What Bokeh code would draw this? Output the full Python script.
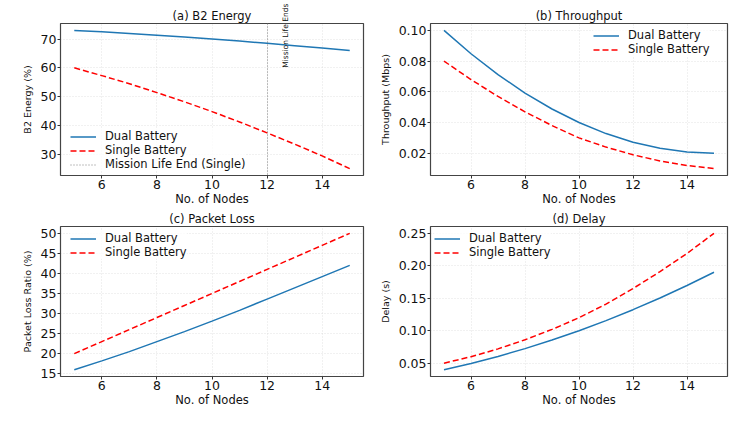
import numpy as np
from bokeh.plotting import figure
from bokeh.layouts import gridplot
from bokeh.models import (Range1d, FixedTicker, NumeralTickFormatter, Label,
                          Legend, LegendItem)
from bokeh.embed import file_html
from bokeh.resources import INLINE

# ---- data ---------------------------------------------------------------
nodes = [5, 6, 7, 8, 9, 10, 11, 12, 13, 14, 15]

energy_dual = [73.0, 72.5, 71.9, 71.3, 70.7, 70.0, 69.3, 68.5, 67.7, 66.9, 66.0]
energy_single = [60.0, 57.3, 54.5, 51.4, 48.2, 44.8, 41.2, 37.4, 33.5, 29.4, 25.0]

throughput_dual = [0.100, 0.0848, 0.0712, 0.0592, 0.0488, 0.0400, 0.0328,
                   0.0272, 0.0232, 0.0208, 0.0200]
throughput_single = [0.080, 0.068, 0.057, 0.047, 0.038, 0.030, 0.024,
                     0.019, 0.015, 0.012, 0.010]

loss_dual = [16.0, 18.2, 20.5, 23.0, 25.5, 28.1, 30.8, 33.6, 36.4, 39.2, 42.0]
loss_single = [20, 23, 26, 29, 32, 35, 38, 41, 44, 47, 50]

delay_dual = [0.040, 0.0496, 0.0604, 0.0724, 0.0856, 0.100, 0.1156,
              0.1324, 0.1504, 0.1696, 0.190]
delay_single = [0.050, 0.060, 0.072, 0.086, 0.102, 0.120, 0.141,
                0.165, 0.191, 0.219, 0.250]

mission_end_nodes = 12

x_ticks = [6, 8, 10, 12, 14]
energy_ticks = [30, 40, 50, 60, 70]
throughput_ticks = [0.02, 0.04, 0.06, 0.08, 0.10]
loss_ticks = [15, 20, 25, 30, 35, 40, 45, 50]
delay_ticks = [0.05, 0.10, 0.15, 0.20, 0.25]

# ---- styling --------------------------------------------------------------
FONT = "DejaVu Sans"
BLUE = "#1f77b4"
RED = "#ff0000"
TEXT = "#111111"


def make_panel(title, ylabel, dual, single, yticks, fmt, width, height,
               borders, legend_xy, extra_items=None):
    left, right, top, bottom = borders
    lo = min(min(dual), min(single))
    hi = max(max(dual), max(single))
    pad = 0.05 * (hi - lo)
    xpad = 0.05 * (max(nodes) - min(nodes))

    p = figure(width=width, height=height, output_backend="svg",
               toolbar_location=None,
               x_range=Range1d(min(nodes) - xpad, max(nodes) + xpad),
               y_range=Range1d(lo - pad, hi + pad),
               min_border_left=left, min_border_right=right,
               min_border_top=top, min_border_bottom=bottom)

    p.title.text = title
    p.title.align = "center"
    p.title.text_font = FONT
    p.title.text_font_size = "11.5px"
    p.title.text_font_style = "normal"
    p.title.text_color = TEXT
    p.title.standoff = 2

    p.background_fill_color = "white"
    p.border_fill_color = "white"
    p.outline_line_color = "#444444"
    p.outline_line_width = 1.2

    for ax in (p.xaxis, p.yaxis):
        ax.axis_line_color = None
        ax.major_tick_line_color = "#333333"
        ax.major_tick_out = 3
        ax.major_tick_in = 0
        ax.minor_tick_line_color = None
        ax.major_label_text_font = FONT
        ax.major_label_text_font_size = "12.5px"
        ax.major_label_text_color = TEXT
        ax.major_label_standoff = 1
        ax.axis_label_text_font = FONT
        ax.axis_label_text_font_style = "normal"
        ax.axis_label_text_color = TEXT

    p.xaxis.ticker = FixedTicker(ticks=x_ticks)
    p.xaxis.axis_label = "No. of Nodes"
    p.xaxis.axis_label_text_font_size = "11.5px"
    p.xaxis.axis_label_standoff = 0

    p.yaxis.ticker = FixedTicker(ticks=yticks)
    p.yaxis.formatter = NumeralTickFormatter(format=fmt)
    p.yaxis.axis_label = ylabel
    p.yaxis.axis_label_text_font_size = "9.5px"
    p.yaxis.axis_label_standoff = 5

    p.grid.grid_line_color = "#c8c8c8"
    p.grid.grid_line_alpha = 0.5
    p.grid.grid_line_dash = "1 2"

    r_dual = p.line(nodes, dual, line_color=BLUE, line_width=1.5)
    r_single = p.line(nodes, single, line_color=RED, line_width=1.5,
                      line_dash="6 3")

    items = [LegendItem(label="Dual Battery", renderers=[r_dual]),
             LegendItem(label="Single Battery", renderers=[r_single])]
    if extra_items:
        items += extra_items(p)

    legend = Legend(items=items, location=legend_xy,
                    label_text_font=FONT, label_text_font_size="11.5px",
                    label_text_color=TEXT,
                    glyph_width=26, glyph_height=11, label_height=11,
                    label_standoff=9, spacing=0, padding=6, margin=0,
                    border_line_color=None,
                    background_fill_color="white", background_fill_alpha=0.8)
    p.add_layout(legend)
    return p


def mission_marker(p):
    # dotted vertical line where the single-battery mission ends
    r = p.vspan(x=[mission_end_nodes], line_color="#808080", line_width=1,
                line_dash="1 2")
    # the note runs past the top of the frame; kept in a side panel so it
    # is not clipped to the plotting area (placed by data coordinates)
    p.add_layout(Label(x=mission_end_nodes + 0.5, y=60,
                       text="Mission Life Ends", angle=np.pi / 2,
                       text_align="left", text_baseline="top",
                       text_font=FONT, text_font_size="7.5px",
                       text_color=TEXT), "right")
    return [LegendItem(label="Mission Life End (Single)", renderers=[r])]


pa = make_panel("(a) B2 Energy", "B2 Energy (%)", energy_dual, energy_single,
                energy_ticks, "0", 376, 208, (60, 13, 23, 32), (10, 4),
                extra_items=mission_marker)
pb = make_panel("(b) Throughput", "Throughput (Mbps)", throughput_dual,
                throughput_single, throughput_ticks, "0.00", 376, 208,
                (49, 25, 23, 32), (163, 119))
pc = make_panel("(c) Packet Loss", "Packet Loss Ratio (%)", loss_dual,
                loss_single, loss_ticks, "0", 376, 217, (60, 13, 16, 49),
                (10, 117))
pd = make_panel("(d) Delay", "Delay (s)", delay_dual, delay_single,
                delay_ticks, "0.00", 376, 217, (49, 25, 16, 49), (4, 117))

grid = gridplot([[pa, pb], [pc, pd]], toolbar_location=None)

open("out.html", "w").write(file_html(grid, INLINE))
